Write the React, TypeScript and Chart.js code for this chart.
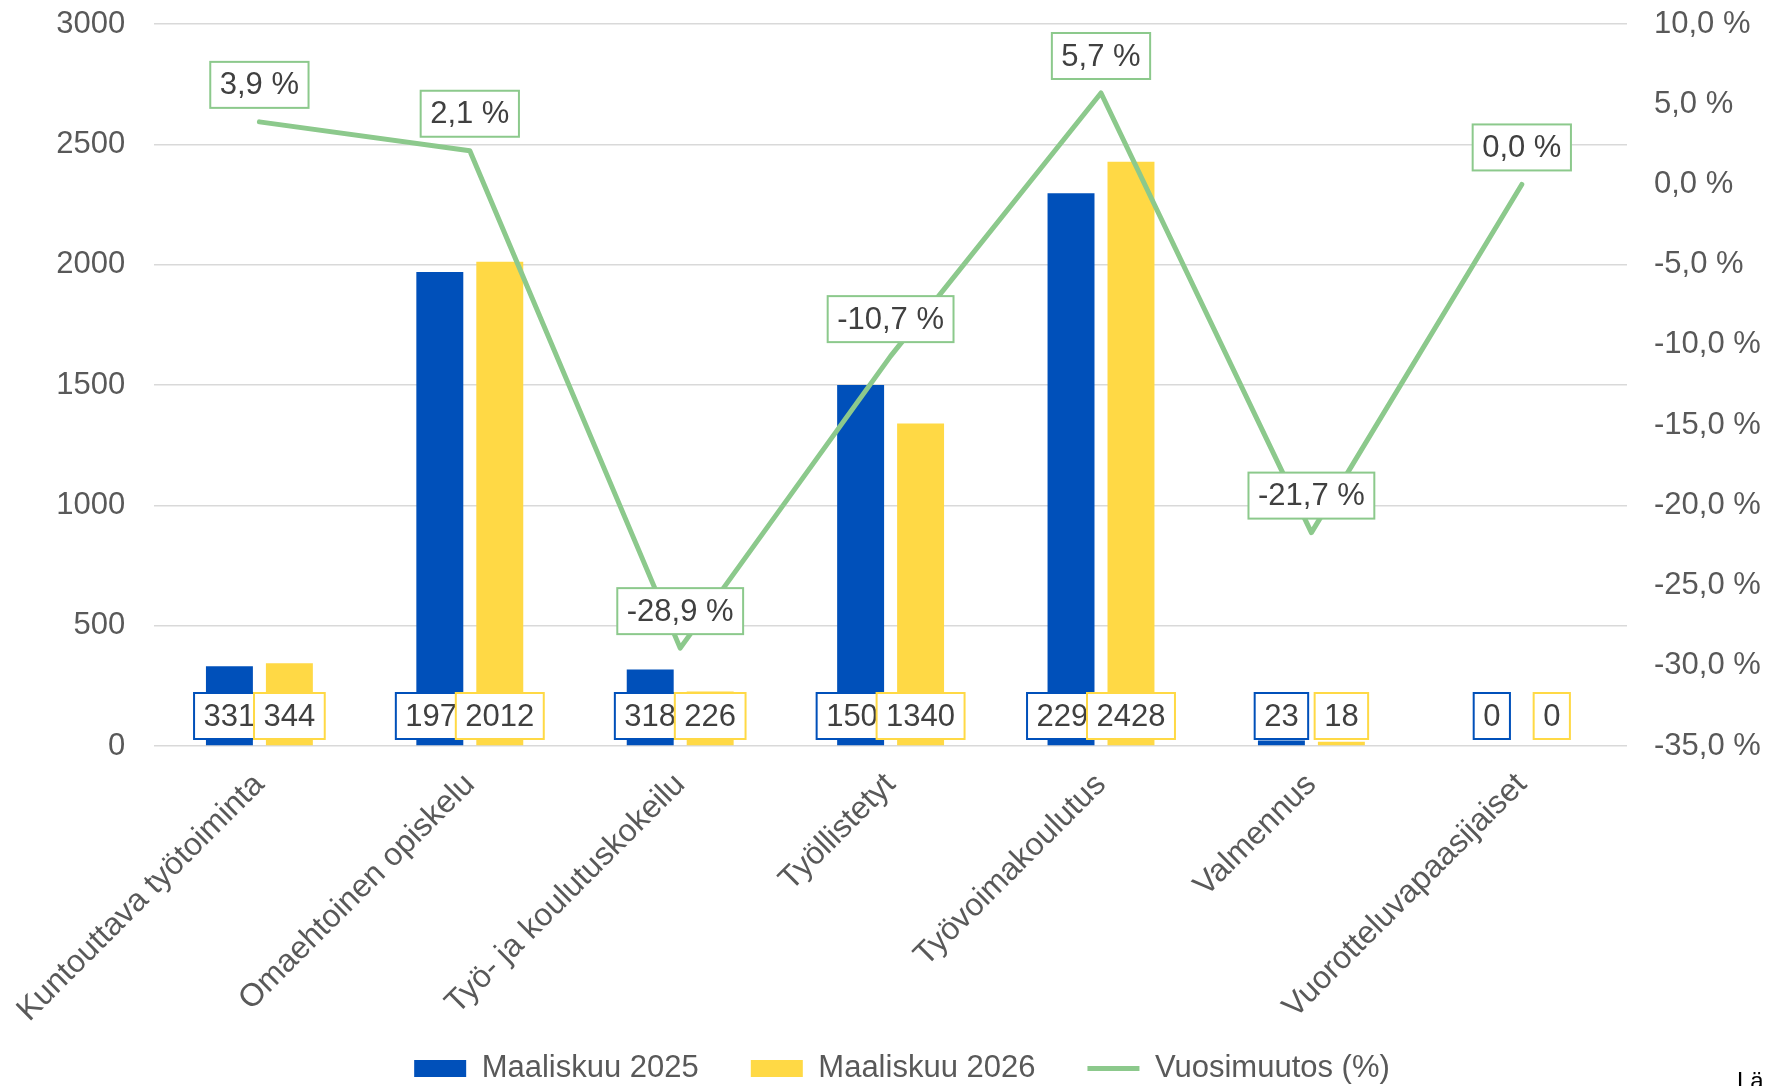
import React, { useEffect, useRef } from 'react';
import { Chart, registerables } from 'chart.js';

Chart.register(...registerables);

const categories = [
  'Kuntouttava työtoiminta',
  'Omaehtoinen opiskelu',
  'Työ- ja koulutuskokeilu',
  'Työllistetyt',
  'Työvoimakoulutus',
  'Valmennus',
  'Vuorotteluvapaasijaiset',
];
const seriesNames = ['Maaliskuu 2025', 'Maaliskuu 2026', 'Vuosimuutos (%)'];
const values2025 = [331, 1970, 318, 1500, 2297, 23, 0];
const values2026 = [344, 2012, 226, 1340, 2428, 18, 0];
const changePct = [3.9, 2.1, -28.9, -10.7, 5.7, -21.7, 0.0];
const leftAxis = { min: 0, max: 3000, step: 500 };
const rightAxis = { min: -35, max: 10, step: 5 };

const FONT = "'Liberation Sans', Arial, sans-serif";
const BLUE = '#0050BA';
const YELLOW = '#FFD945';
const GREEN = '#8CC98C';
const AXIS_TEXT = '#595959';
const LABEL_TEXT = '#404040';

const fmtPct = (v: number) => v.toFixed(1).replace('.', ',') + ' %';

const labelPlugin = {
  id: 'boxLabels',
  afterLayout(chart: any) {
    // let rotated category labels extend below the axis box (no clipping)
    const xs = chart.scales.x;
    if (xs) xs.bottom = chart.height;
  },
  afterDatasetsDraw(chart: any) {
    const ctx = chart.ctx as CanvasRenderingContext2D;
    ctx.save();
    ctx.font = `31px ${FONT}`;
    ctx.textAlign = 'center';
    ctx.textBaseline = 'middle';
    const y0 = chart.scales.y.getPixelForValue(0);
    const drawBox = (text: string, cx: number, cy: number, border: string) => {
      const w = ctx.measureText(text).width + 19;
      const h = 46;
      ctx.fillStyle = '#ffffff';
      ctx.fillRect(cx - w / 2, cy - h / 2, w, h);
      ctx.strokeStyle = border;
      ctx.lineWidth = 2;
      ctx.strokeRect(cx - w / 2, cy - h / 2, w, h);
      ctx.fillStyle = LABEL_TEXT;
      ctx.fillText(text, cx, cy + 1);
    };
    const colors = [BLUE, YELLOW];
    [0, 1].forEach((di) => {
      const meta = chart.getDatasetMeta(di);
      meta.data.forEach((el: any, i: number) => {
        drawBox(String(chart.data.datasets[di].data[i]), el.x, y0 - 30, colors[di]);
      });
    });
    const lm = chart.getDatasetMeta(2);
    lm.data.forEach((pt: any, i: number) => {
      drawBox(fmtPct(changePct[i]), pt.x, pt.y - 37, GREEN);
    });
    ctx.restore();
  },
  afterDraw(chart: any) {
    const ctx = chart.ctx as CanvasRenderingContext2D;
    ctx.save();
    ctx.font = `24px ${FONT}`;
    ctx.fillStyle = '#000000';
    ctx.textAlign = 'left';
    ctx.textBaseline = 'alphabetic';
    ctx.fillText('Lä', 1737, 1089);
    ctx.restore();
  },
};

export default function App() {
  const ref = useRef<HTMLCanvasElement | null>(null);

  useEffect(() => {
    if (!ref.current) return;
    Chart.defaults.font.family = FONT;
    const chart = new Chart(ref.current, {
      type: 'bar',
      data: {
        labels: categories,
        datasets: [
          {
            type: 'bar',
            label: seriesNames[0],
            data: values2025,
            backgroundColor: BLUE,
            borderWidth: 0,
            yAxisID: 'y',
            order: 1,
            categoryPercentage: 0.57,
            barPercentage: 0.783,
          },
          {
            type: 'bar',
            label: seriesNames[1],
            data: values2026,
            backgroundColor: YELLOW,
            borderWidth: 0,
            yAxisID: 'y',
            order: 1,
            categoryPercentage: 0.57,
            barPercentage: 0.783,
          },
          {
            type: 'line',
            label: seriesNames[2],
            data: changePct,
            borderColor: GREEN,
            backgroundColor: GREEN,
            borderWidth: 5,
            pointRadius: 0,
            pointHoverRadius: 0,
            tension: 0,
            borderJoinStyle: 'round',
            borderCapStyle: 'round',
            yAxisID: 'y1',
            order: 0,
          },
        ] as any,
      },
      options: {
        responsive: false,
        animation: false,
        devicePixelRatio: 1,
        layout: { padding: { left: 36, top: 24, right: 0, bottom: -8 } },
        plugins: {
          legend: {
            position: 'bottom',
            labels: {
              font: { size: 31, family: FONT },
              color: AXIS_TEXT,
              usePointStyle: true,
              pointStyleWidth: 52,
              boxHeight: 17,
              padding: 52,
              sort: (a: any, b: any) => a.datasetIndex - b.datasetIndex,
              generateLabels: (c: any) => {
                const items = (Chart.defaults.plugins.legend.labels as any).generateLabels(c);
                return items.map((it: any) => ({
                  ...it,
                  pointStyle: it.datasetIndex === 2 ? 'line' : 'rect',
                  lineWidth: it.datasetIndex === 2 ? 5 : 0,
                  strokeStyle: it.datasetIndex === 2 ? GREEN : it.fillStyle,
                }));
              },
            },
          },
          tooltip: { enabled: false },
        },
        scales: {
          x: {
            grid: { display: false },
            border: { display: false },
            ticks: {
              font: { size: 32, family: FONT },
              color: AXIS_TEXT,
              maxRotation: 45,
              minRotation: 45,
              autoSkip: false,
              padding: 12,
            },
            afterFit: (s: any) => {
              s.height = 255;
            },
          },
          y: {
            position: 'left',
            min: leftAxis.min,
            max: leftAxis.max,
            ticks: {
              stepSize: leftAxis.step,
              font: { size: 31, family: FONT },
              color: AXIS_TEXT,
              padding: 29,
              callback: (v: any) => String(v),
            },
            grid: { color: '#D9D9D9', lineWidth: 1.5, drawTicks: false },
            border: { display: false },
            afterFit: (s: any) => {
              s.width = 117;
              s.paddingTop = 0;
              s.paddingBottom = 0;
            },
          },
          y1: {
            position: 'right',
            min: rightAxis.min,
            max: rightAxis.max,
            ticks: {
              stepSize: rightAxis.step,
              font: { size: 31, family: FONT },
              color: AXIS_TEXT,
              padding: 27,
              callback: (v: any) => fmtPct(Number(v)),
            },
            grid: { display: false, drawTicks: false },
            border: { display: false },
            afterFit: (s: any) => {
              s.width = 141;
              s.paddingTop = 0;
              s.paddingBottom = 0;
            },
          },
        },
      } as any,
      plugins: [labelPlugin],
    });
    return () => chart.destroy();
  }, []);

  return (
    <div style={{ position: 'absolute', left: 0, top: 0, width: 1768, height: 1086, background: '#fff' }}>
      <canvas ref={ref} width={1768} height={1086} style={{ display: 'block' }} />
    </div>
  );
}
